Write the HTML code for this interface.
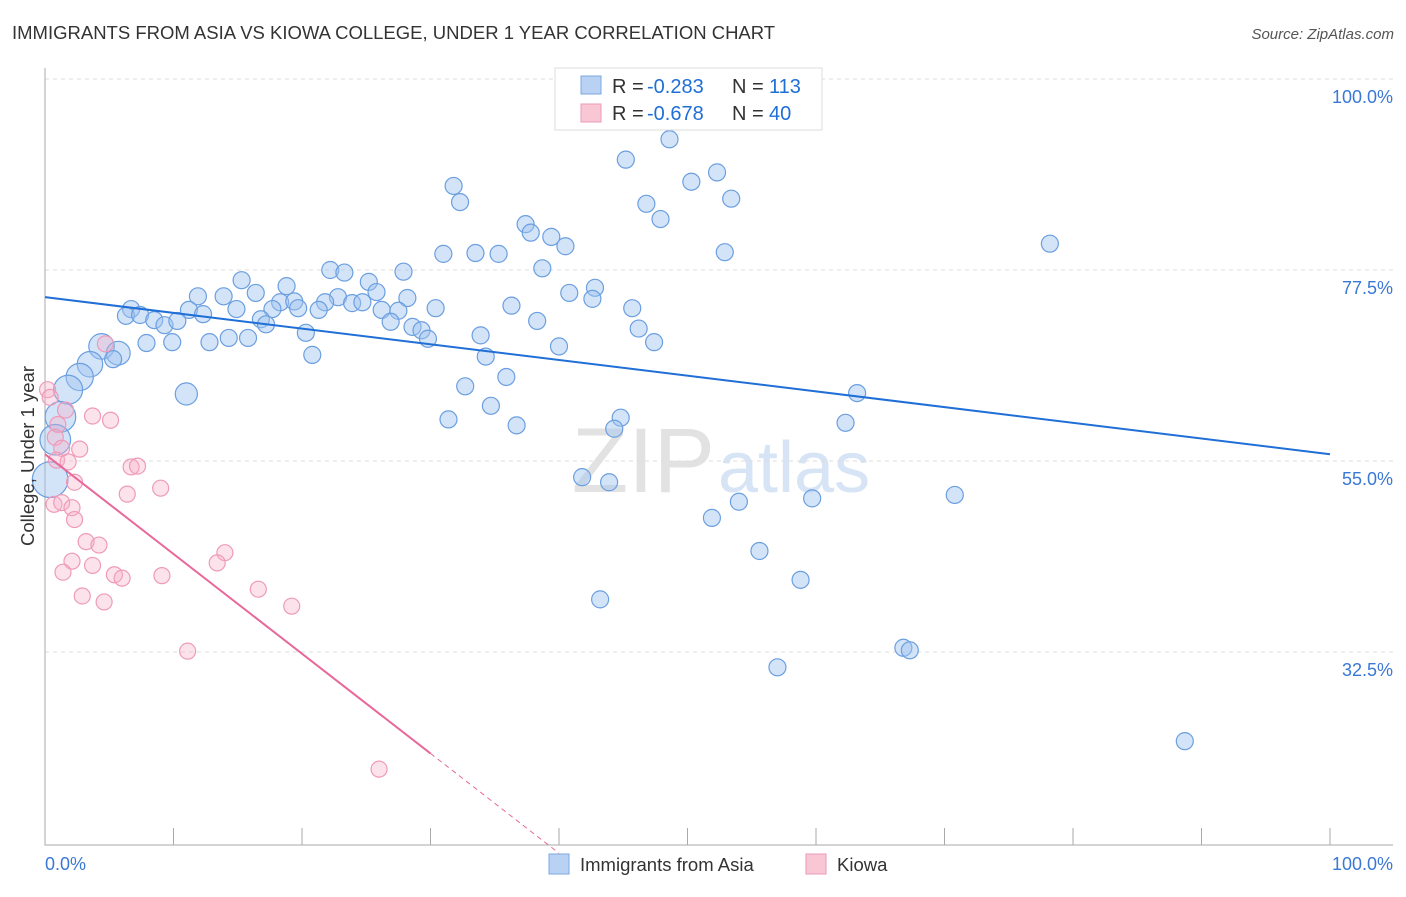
<!DOCTYPE html>
<html><head><meta charset="utf-8"><style>
body{margin:0;background:#fff;font-family:"Liberation Sans",sans-serif}
svg text{font-family:"Liberation Sans",sans-serif}
</style></head><body>
<svg width="1406" height="892" viewBox="0 0 1406 892" xmlns="http://www.w3.org/2000/svg" id="chart">
<text x="12" y="39" font-size="18.5" fill="#333">IMMIGRANTS FROM ASIA VS KIOWA COLLEGE, UNDER 1 YEAR CORRELATION CHART</text>
<text x="1394" y="39" font-size="15" fill="#555" text-anchor="end" font-style="italic">Source: ZipAtlas.com</text>
<text x="715" y="492" font-size="92" fill="#e2e2e2" text-anchor="end" font-family="Liberation Serif">ZIP</text>
<text x="718" y="492" font-size="72" fill="#d6e4f5">atlas</text>
<g id="grid"></g>
<g id="axes"></g>
<g id="pts"></g>
<g id="lines"></g>
<text transform="translate(34,456) rotate(-90)" font-size="18.5" fill="#333" text-anchor="middle">College, Under 1 year</text>
<g>
<rect x="555" y="68" width="267" height="62" fill="#fff" stroke="#ddd"/>
<rect x="581" y="76" width="20" height="18" fill="#b9d2f3" stroke="#7aa8e0"/>
<rect x="581" y="104" width="20" height="18" fill="#f9c6d6" stroke="#ee9ab8"/>
<text x="612" y="93" font-size="20" fill="#333">R =</text><text x="647" y="93" font-size="20" fill="#1f6fd6">-0.283</text>
<text x="732" y="93" font-size="20" fill="#333">N =</text><text x="769" y="93" font-size="20" fill="#1f6fd6">113</text>
<text x="612" y="120" font-size="20" fill="#333">R =</text><text x="647" y="120" font-size="20" fill="#1f6fd6">-0.678</text>
<text x="732" y="120" font-size="20" fill="#333">N =</text><text x="769" y="120" font-size="20" fill="#1f6fd6">40</text>
</g>
<g>
<rect x="549" y="854" width="20" height="20" fill="#b9d2f3" stroke="#7aa8e0"/>
<text x="580" y="871" font-size="18.5" fill="#333">Immigrants from Asia</text>
<rect x="806" y="854" width="20" height="20" fill="#f9c6d6" stroke="#ee9ab8"/>
<text x="837" y="871" font-size="18.5" fill="#333">Kiowa</text>
</g>
</svg>
<script>
const yTicks=[100,77.5,55,32.5];
const yTickLabels=["100.0%","77.5%","55.0%","32.5%"];
const xTickLabels=["0.0%","100.0%"];
const blueTrend=[74.3,55.8];
const pinkTrend=[55.8,8.8];
const pinkSolidEnd=30;
const blue=[[48.6,92.9],[45.2,90.5],[31.8,87.4],[32.3,85.5],[50.3,87.9],[52.3,89.0],[53.4,85.9],[46.8,85.3],[47.9,83.5],[78.2,80.6],[37.4,82.9],[37.8,81.9],[39.4,81.4],[40.5,80.3],[31.0,79.4],[33.5,79.5],[35.3,79.4],[52.9,79.6],[38.7,77.7],[27.9,77.3],[22.2,77.5],[23.3,77.2],[15.3,76.3],[18.8,75.6],[25.2,76.1],[25.8,74.9],[42.8,75.4],[40.8,74.8],[42.6,74.1],[11.9,74.4],[13.9,74.4],[16.4,74.8],[18.3,73.7],[19.4,73.8],[19.7,73.0],[22.8,74.3],[21.8,73.7],[23.9,73.6],[24.7,73.7],[28.2,74.2],[30.4,73.0],[36.3,73.3],[45.7,73.0],[6.7,72.9],[6.3,72.1],[11.2,72.8],[12.3,72.3],[14.9,72.9],[17.7,72.9],[21.3,72.8],[26.2,72.8],[27.5,72.7],[7.4,72.2],[8.5,71.6],[9.3,71.0],[10.3,71.5],[16.8,71.7],[17.2,71.1],[26.9,71.4],[28.6,70.8],[29.3,70.4],[29.8,69.4],[38.3,71.5],[46.2,70.6],[33.9,69.8],[20.3,70.1],[7.9,68.9],[9.9,69.0],[12.8,69.0],[14.3,69.5],[15.8,69.5],[40.0,68.5],[47.4,69.0],[20.8,67.5],[34.3,67.3],[4.4,68.5],[5.7,67.7],[5.3,67.0],[3.5,66.4],[2.7,64.9],[1.8,63.4],[1.2,60.2],[0.8,57.5],[0.4,52.8],[35.9,64.9],[32.7,63.8],[11.0,62.9],[63.2,63.0],[34.7,61.5],[31.4,59.9],[44.8,60.1],[44.3,58.8],[36.7,59.2],[62.3,59.5],[41.8,53.1],[43.9,52.5],[54.0,50.2],[51.9,48.3],[59.7,50.6],[70.8,51.0],[55.6,44.4],[58.8,41.0],[43.2,38.7],[66.8,33.0],[67.3,32.7],[57.0,30.7],[88.7,22.0]];
const blueSize=[];blue.forEach((p,i)=>blueSize.push(1));
[75,76,78,79,80,81,82,83].forEach((i,k)=>blueSize[i]=[1.5,1.4,1.5,1.6,1.7,1.8,1.8,2.1][k]);
blueSize[86]=1.3;
const pink=[[0.2,63.4],[0.4,62.5],[1.6,61.0],[3.7,60.3],[5.1,59.8],[1.0,59.3],[0.8,57.8],[2.7,56.4],[1.3,56.5],[0.9,55.1],[1.8,54.9],[6.7,54.3],[7.2,54.4],[2.3,52.5],[9.0,51.8],[6.4,51.1],[0.7,49.9],[1.3,50.1],[2.1,49.5],[2.3,48.1],[3.2,45.5],[4.2,45.1],[14.0,44.2],[2.1,43.2],[3.7,42.7],[13.4,43.0],[1.4,41.9],[5.4,41.6],[6.0,41.2],[9.1,41.5],[16.6,39.9],[2.9,39.1],[4.6,38.4],[19.2,37.9],[11.1,32.6],[26.0,18.7],[4.7,68.8]];
const X=v=>45+v*12.85, Y=v=>79+(100-v)*8.489;
const NS="http://www.w3.org/2000/svg";
function mk(parent,tag,attrs){const e=document.createElementNS(NS,tag);for(const k in attrs)e.setAttribute(k,attrs[k]);document.getElementById(parent).appendChild(e);return e;}
yTicks.forEach((t,i)=>{
 const l=mk('grid','line',{x1:45,x2:1393,y1:Y(t),y2:Y(t),stroke:'#ddd','stroke-dasharray':'4,4'});
 
 
 const tx=mk('grid','text',{x:1393,y:Y(t)+24,'font-size':18,fill:'#3a78d6','text-anchor':'end'});tx.textContent=yTickLabels[i];
 
 
});
const ax=mk('axes','path',{d:'M45 68V845H1393',stroke:'#aaa',fill:'none'});


for(let i=0;i<=10;i++){const t=mk('axes','line',{x1:X(i*10),x2:X(i*10),y1:828,y2:845,stroke:'#aaa'});
 
 }
const xl0=mk('axes','text',{x:45,y:870,'font-size':18,fill:'#3a78d6'});xl0.textContent=xTickLabels[0];


const xl1=mk('axes','text',{x:1393,y:870,'font-size':18,fill:'#3a78d6','text-anchor':'end'});xl1.textContent=xTickLabels[1];


blue.forEach((p,i)=>{const c=mk('pts','circle',{cx:X(p[0]),cy:Y(p[1]),r:8.5*blueSize[i],fill:'rgba(160,195,240,0.45)',stroke:'#6b9fe0','stroke-width':1.2});
 
 });
pink.forEach(p=>{const c=mk('pts','circle',{cx:X(p[0]),cy:Y(p[1]),r:8,fill:'rgba(246,175,198,0.35)',stroke:'#ef9ab9','stroke-width':1.2});
 
 });
const bl=mk('lines','line',{x1:X(0),y1:Y(blueTrend[0]),x2:X(100),y2:Y(blueTrend[1]),stroke:'#1f6fd6','stroke-width':2});


const py=x=>pinkTrend[0]+(pinkTrend[1]-pinkTrend[0])*x/40;
const pl=mk('lines','line',{x1:X(0),y1:Y(pinkTrend[0]),x2:X(pinkSolidEnd),y2:Y(py(pinkSolidEnd)),stroke:'#e8689a','stroke-width':2});


const pd=mk('lines','line',{x1:X(pinkSolidEnd),y1:Y(py(pinkSolidEnd)),x2:X(40),y2:Y(pinkTrend[1]),stroke:'#e8689a','stroke-width':1,'stroke-dasharray':'5,4'});


</script>
</body></html>
